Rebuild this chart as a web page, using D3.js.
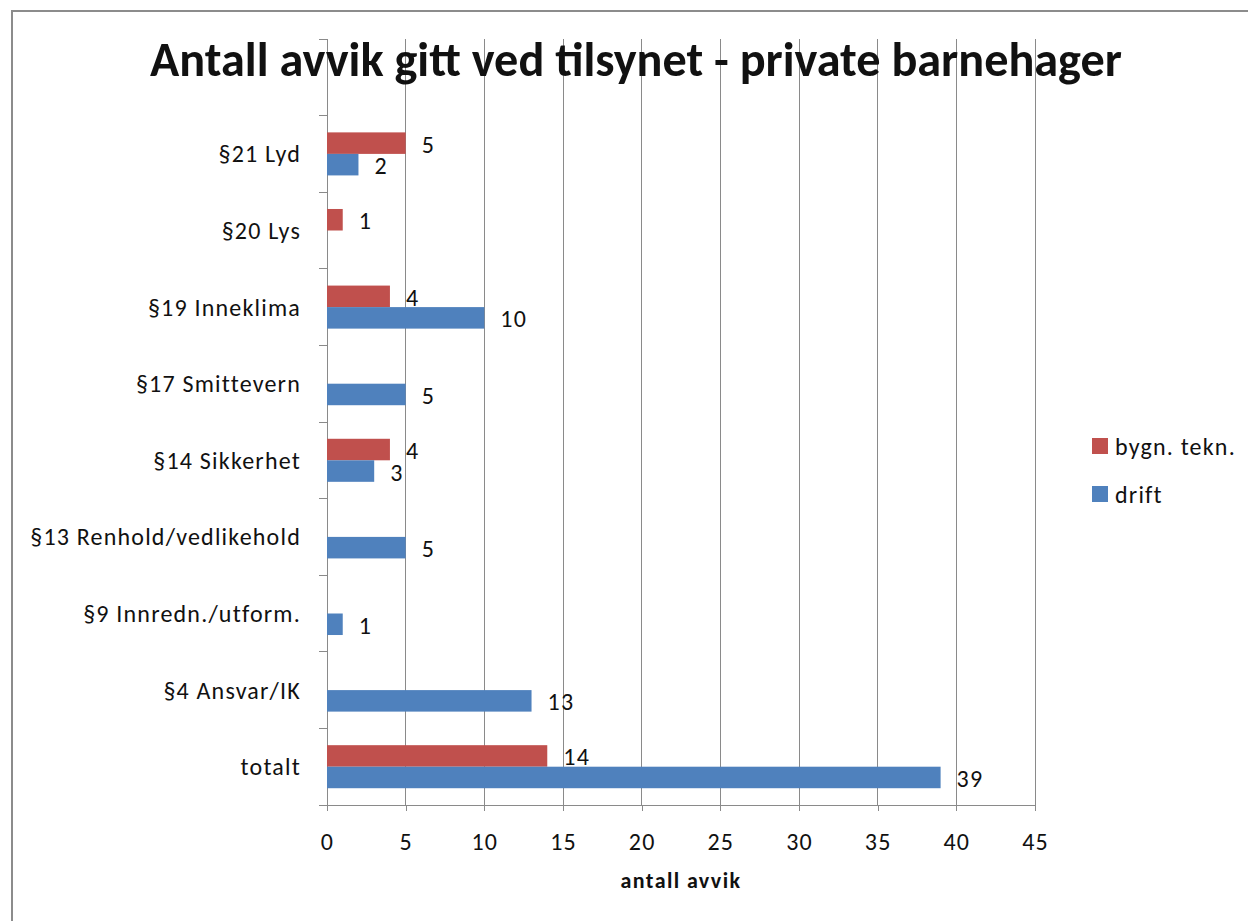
<!DOCTYPE html>
<html>
<head>
<meta charset="utf-8">
<script src="https://cdn.jsdelivr.net/npm/d3@7"></script>
<style>
  html, body { margin: 0; padding: 0; background: #fff; }
  svg { display: block; }
  text { font-family: Carlito, Calibri, Lato, "Open Sans", sans-serif; fill: #111; }
</style>
</head>
<body>
<svg id="chart" width="1248" height="921"></svg>
<script>
const title = "Antall avvik gitt ved tilsynet - private barnehager";
const xAxisTitle = "antall avvik";
const categories = ["", "§21 Lyd", "§20 Lys", "§19 Inneklima", "§17 Smittevern", "§14 Sikkerhet", "§13 Renhold/vedlikehold", "§9 Innredn./utform.", "§4 Ansvar/IK", "totalt"];
const seriesNames = ["bygn. tekn.", "drift"];
const bygnTekn = [null, 5, 1, 4, null, 4, null, null, null, 14];
const drift = [null, 2, null, 10, 5, 3, 5, 1, 13, 39];
const xTicks = [0, 5, 10, 15, 20, 25, 30, 35, 40, 45];
const colors = ["#C0504D", "#4F81BD"];

const svg = d3.select("#chart");
const W = 1248, H = 921;
const plot = { left: 327, right: 1035, top: 39, bottom: 805 };
const FS = 24, LS = "1.2px";

// Outer border
svg.append("rect").attr("x", 12).attr("y", 11).attr("width", W + 20).attr("height", H + 20)
  .attr("fill", "#fff").attr("stroke", "#8c8c8c").attr("stroke-width", 2);

const x = d3.scaleLinear().domain([0, 45]).range([plot.left, plot.right]);
const y = d3.scaleBand().domain(categories).range([plot.top, plot.bottom]).padding(0);
const ySub = d3.scaleBand().domain(seriesNames).range([0, y.bandwidth()]).paddingInner(0).paddingOuter(0.78);

// Gridlines
svg.append("g").selectAll("line").data(xTicks.filter(d => d > 0)).join("line")
  .attr("x1", d => x(d)).attr("x2", d => x(d))
  .attr("y1", plot.top).attr("y2", plot.bottom)
  .attr("stroke", "#8a8a8a").attr("stroke-width", 1).attr("shape-rendering", "crispEdges");

// X axis
const xAxis = svg.append("g").attr("transform", `translate(0,${plot.bottom})`)
  .call(d3.axisBottom(x).tickValues(xTicks).tickSize(6).tickSizeOuter(0));
xAxis.select(".domain").attr("stroke", "#8a8a8a").attr("shape-rendering", "crispEdges");
xAxis.selectAll(".tick line").attr("stroke", "#8a8a8a").attr("shape-rendering", "crispEdges");
xAxis.selectAll(".tick text").attr("font-size", FS).attr("letter-spacing", LS).attr("fill", "#111")
  .attr("font-family", "Carlito, Calibri, Lato, 'Open Sans', sans-serif")
  .attr("y", 36).attr("dy", null).attr("dominant-baseline", "central");

// Y axis (boundary ticks + labels)
const yAxis = svg.append("g");
yAxis.append("line").attr("x1", plot.left).attr("x2", plot.left)
  .attr("y1", plot.top).attr("y2", plot.bottom + 6)
  .attr("stroke", "#8a8a8a").attr("shape-rendering", "crispEdges");
const bounds = categories.map(c => y(c)).concat([plot.bottom]);
yAxis.selectAll("line.tk").data(bounds).join("line").attr("class", "tk")
  .attr("x1", plot.left - 8).attr("x2", plot.left)
  .attr("y1", d => d).attr("y2", d => d)
  .attr("stroke", "#8a8a8a").attr("shape-rendering", "crispEdges");
yAxis.selectAll("text").data(categories).join("text")
  .attr("x", plot.left - 26).attr("y", d => y(d) + y.bandwidth() / 2)
  .attr("text-anchor", "end").attr("dominant-baseline", "central")
  .attr("font-size", FS).attr("letter-spacing", LS).text(d => d);

// Bars
const seriesData = [bygnTekn, drift];
seriesNames.forEach((s, si) => {
  const g = svg.append("g");
  const rows = categories.map((c, i) => ({ c, v: seriesData[si][i] })).filter(d => d.v != null);
  g.selectAll("rect").data(rows).join("rect")
    .attr("x", x(0)).attr("y", d => y(d.c) + ySub(s))
    .attr("width", d => x(d.v) - x(0)).attr("height", ySub.bandwidth())
    .attr("fill", colors[si]);
  g.selectAll("text").data(rows).join("text")
    .attr("x", d => x(d.v) + 16).attr("y", d => y(d.c) + ySub(s) + ySub.bandwidth() / 2 + 1)
    .attr("dominant-baseline", "central").attr("font-size", FS).attr("letter-spacing", LS).text(d => d.v);
});

// Title
const t = svg.append("text").attr("x", 636).attr("y", 76).attr("text-anchor", "middle")
  .attr("font-weight", "bold").attr("font-size", 44).text(title);
const tw = t.node().getComputedTextLength();
t.attr("font-size", 44 * 972 / tw);

// X axis title
svg.append("text").attr("x", 681).attr("y", 880).attr("text-anchor", "middle")
  .attr("dominant-baseline", "central").attr("font-weight", "bold").attr("font-size", 22)
  .attr("letter-spacing", "1.4px").text(xAxisTitle);

// Legend
const legend = svg.append("g").attr("transform", "translate(1092,0)");
const legendY = [446, 494];
seriesNames.forEach((s, i) => {
  legend.append("rect").attr("x", 0).attr("y", legendY[i] - 8).attr("width", 16).attr("height", 16)
    .attr("fill", colors[i]);
  legend.append("text").attr("x", 23).attr("y", legendY[i]).attr("dominant-baseline", "central")
    .attr("font-size", FS).attr("letter-spacing", LS).text(s);
});
</script>
</body>
</html>
